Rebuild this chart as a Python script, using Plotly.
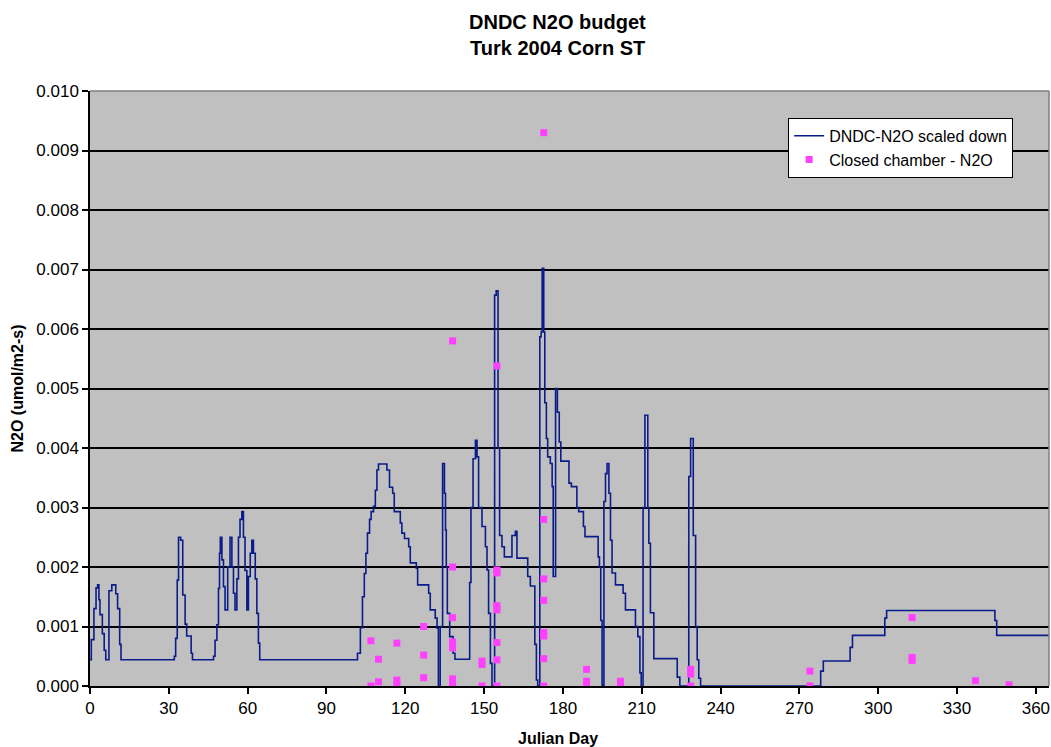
import plotly.graph_objects as go

# DNDC modelled N2O (step series): Julian day, value (umol/m2-s)
dndc_day = [0, 0.5, 1.5, 2.3, 2.9, 3.4, 3.8, 4.7, 5.4, 6.0, 7.2, 8.3, 9.8, 10.5, 11.3, 11.8,
            32.1, 32.6, 33.2, 33.7, 34.5, 35.3, 36.2, 36.8, 38.5, 39.0,
            47.0, 47.6, 48.3, 48.9, 49.3, 49.6, 50.2, 50.8, 51.4, 52.4, 53.3, 54.0, 54.6, 55.2,
            55.9, 56.5, 57.1, 57.8, 58.4, 59.0, 59.7, 60.3, 61.0, 61.6, 62.2, 62.9, 63.5, 64.1, 64.6,
            101.8, 102.9, 103.7, 104.4, 105.0, 105.6, 106.4, 107.0, 107.9, 108.6, 109.2, 109.8,
            113.0, 114.0, 115.2, 115.8, 118.1, 118.7, 119.7, 121.3, 121.9, 124.2, 124.7, 128.9,
            129.5, 131.4, 132.1, 132.6, 133.3, 134.2, 134.9, 135.3, 135.6, 136.0, 136.9, 138.2, 138.9,
            144.5, 145.0, 145.8, 146.7, 147.3, 147.9, 149.2, 150.5, 151.1, 151.7, 152.4, 153.0,
            154.0, 154.6, 155.3, 155.9, 156.8, 157.7, 160.6, 161.9, 162.5, 166.6, 167.6, 169.3,
            169.9, 170.4,
            171.2, 171.7, 172.1, 172.7, 173.1, 173.7, 174.2, 175.2, 175.9, 176.3, 177.2, 177.9,
            178.6, 179.2, 182.3, 183.2, 185.3, 186.0, 187.8, 188.4, 193.4, 193.9, 194.4, 194.9,
            195.6, 196.2, 196.8, 197.5, 198.1, 198.7, 200.0, 202.9, 203.8, 207.6, 208.5, 209.3,
            209.8, 210.5, 211.2, 212.3, 212.7, 213.3, 214.6, 223.5, 224.5, 227.9, 228.6, 229.6,
            230.5, 231.1, 231.7, 232.4,
            278.1, 279.1, 289.3, 290.2, 302.5, 303.2, 344.4, 345.1, 365.0]
dndc_val = [0.00044, 0.00078, 0.0013, 0.00165, 0.0017, 0.00145, 0.0012, 0.00088, 0.0006, 0.00044,
            0.0016, 0.0017, 0.00155, 0.0013, 0.0007, 0.00044,
            0.0005, 0.0008, 0.00178, 0.0025, 0.00245, 0.00153, 0.00104, 0.00084, 0.00055, 0.00044,
            0.0005, 0.00077, 0.00103, 0.00164, 0.00223, 0.0025, 0.00212, 0.00167, 0.00128, 0.002,
            0.0025, 0.002, 0.00156, 0.00128, 0.0018, 0.0025, 0.0028, 0.00293, 0.0025, 0.00194,
            0.00128, 0.00184, 0.00223, 0.00245, 0.00223, 0.0018, 0.00122, 0.00072, 0.00044,
            0.00055, 0.00098, 0.0015, 0.00189, 0.00223, 0.00257, 0.0028, 0.00293, 0.00302, 0.00329,
            0.00363, 0.00373, 0.00363, 0.00334, 0.00324, 0.00293, 0.00274, 0.00257, 0.00248,
            0.00234, 0.00207, 0.00198, 0.0017, 0.00156, 0.00128, 0.00114, 0.00097, 0.0, 0.001,
            0.00374, 0.00324, 0.00262, 0.002, 0.00122, 0.00083, 0.00055, 0.00045,
            0.00174, 0.003, 0.00382, 0.00413, 0.00385, 0.003, 0.00268, 0.00234, 0.00195, 0.00122,
            0.00038, 0.0,
            0.00657, 0.00664, 0.004, 0.00253, 0.00234, 0.00217, 0.00253, 0.0026, 0.00215, 0.00184,
            0.00168, 0.0007, 0.0001, 0.0,
            0.00587, 0.00595, 0.00702, 0.00595, 0.00476, 0.00416, 0.00385, 0.00374, 0.00335,
            0.00184, 0.005, 0.0046, 0.0041, 0.00378, 0.00341, 0.00335, 0.003, 0.00293, 0.00268,
            0.00251, 0.00217, 0.002, 0.0011, 0.0,
            0.0031, 0.00357, 0.00374, 0.00324, 0.00245, 0.0019, 0.0017, 0.00156, 0.00128, 0.001,
            0.00083, 0.00022, 0.0, 0.003, 0.00455, 0.003, 0.0024, 0.00123, 0.00046, 0.00015, 0.0,
            0.00352, 0.00416, 0.00253, 0.001, 0.00044, 0.00013, 0.0,
            0.00025, 0.00042, 0.00065, 0.00085, 0.00114, 0.00127, 0.0011, 0.00085, 0.00085]

# Closed chamber measurements
chamber_day = [106.9, 106.9, 109.8, 109.8, 116.8, 116.8, 116.8, 127.0, 127.0, 127.0,
               138.0, 138.0, 138.0, 138.0, 138.0, 138.0, 138.0, 149.2, 149.2, 149.2,
               154.9, 154.9, 154.9, 154.9, 154.9, 154.9, 154.9, 154.9,
               172.7, 172.7, 172.7, 172.7, 172.7, 172.7, 172.7, 172.7,
               189.0, 189.0, 189.0, 201.9, 201.9, 228.6, 228.6, 228.6,
               274.0, 274.0, 312.9, 312.9, 312.9, 337.0, 349.8]
chamber_val = [0.00076, 0.0, 0.00045, 0.00007, 0.00072, 0.0001, 0.00003, 0.001, 0.00052, 0.00014,
               0.0058, 0.002, 0.00115, 0.00074, 0.00064, 0.00012, 0.00002, 0.00042, 0.00036, 0.0,
               0.00538, 0.00195, 0.0019, 0.00135, 0.00128, 0.00073, 0.00044, 0.0,
               0.0093, 0.0028, 0.0018, 0.00144, 0.0009, 0.00084, 0.00046, 0.0,
               0.00028, 0.00008, 0.00002, 0.00008, 0.00002, 0.00028, 0.0002, 0.0,
               0.00025, 0.0, 0.00115, 0.00048, 0.00043, 0.00009, 0.00002]

x_ticks = [0, 30, 60, 90, 120, 150, 180, 210, 240, 270, 300, 330, 360]
y_ticks = [0.000, 0.001, 0.002, 0.003, 0.004, 0.005, 0.006, 0.007, 0.008, 0.009, 0.010]

FONT = "Liberation Sans, Arial, sans-serif"

fig = go.Figure()
fig.add_trace(go.Scatter(x=dndc_day, y=dndc_val, mode="lines", line_shape="hv",
                         line=dict(color="#0A1C8A", width=1.6),
                         name="DNDC-N2O scaled down"))
fig.add_trace(go.Scatter(x=chamber_day, y=chamber_val, mode="markers",
                         marker=dict(symbol="square", size=7, color="#FF40FF",
                                     line=dict(width=0)),
                         name="Closed chamber - N2O"))

fig.update_layout(
    width=1051, height=747,
    margin=dict(l=90, r=2, t=91, b=61),
    paper_bgcolor="white", plot_bgcolor="#C0C0C0",
    font=dict(family=FONT, size=17, color="black"),
    showlegend=True,
    legend=dict(x=0.728, y=0.955, xanchor="left", yanchor="top",
                bgcolor="white", bordercolor="black", borderwidth=1,
                font=dict(family=FONT, size=16, color="black"),
                tracegroupgap=0, itemwidth=30),
    xaxis=dict(range=[0, 365], tickvals=x_ticks, ticks="outside", ticklen=6,
               tickwidth=1.5, tickcolor="black", showline=True, linecolor="black",
               linewidth=1.5, showgrid=False, zeroline=False,
               tickfont=dict(family=FONT, size=17, color="black")),
    yaxis=dict(range=[0, 0.010], tickvals=y_ticks, tickformat=".3f", ticks="outside",
               ticklen=6, tickwidth=1.5, tickcolor="black", showline=True,
               linecolor="black", linewidth=1.5, showgrid=True, gridcolor="black",
               gridwidth=1.5, zeroline=False,
               tickfont=dict(family=FONT, size=17, color="black")),
    shapes=[
        dict(type="line", xref="paper", yref="paper", x0=0, x1=1, y0=1, y1=1,
             line=dict(color="#808080", width=1.5), layer="above"),
        dict(type="line", xref="paper", yref="paper", x0=1, x1=1, y0=0, y1=1,
             line=dict(color="#808080", width=1.5), layer="above"),
    ],
    annotations=[
        dict(text="<b>DNDC N2O budget</b>", xref="paper", yref="paper",
             x=0.488, y=1 + (91 - 22) / 595, xanchor="center", yanchor="middle",
             showarrow=False, font=dict(family=FONT, size=20, color="black")),
        dict(text="<b>Turk 2004 Corn ST</b>", xref="paper", yref="paper",
             x=0.488, y=1 + (91 - 48) / 595, xanchor="center", yanchor="middle",
             showarrow=False, font=dict(family=FONT, size=20, color="black")),
        dict(text="<b>Julian Day</b>", xref="paper", yref="paper",
             x=0.488, y=(686 - 738) / 595, xanchor="center", yanchor="middle",
             showarrow=False, font=dict(family=FONT, size=16, color="black")),
        dict(text="<b>N2O (umol/m2-s)</b>", xref="paper", yref="paper",
             x=(17 - 90) / 959, y=0.5, xanchor="center", yanchor="middle",
             textangle=-90, showarrow=False,
             font=dict(family=FONT, size=16, color="black")),
    ],
)

fig.write_html("out.html")
